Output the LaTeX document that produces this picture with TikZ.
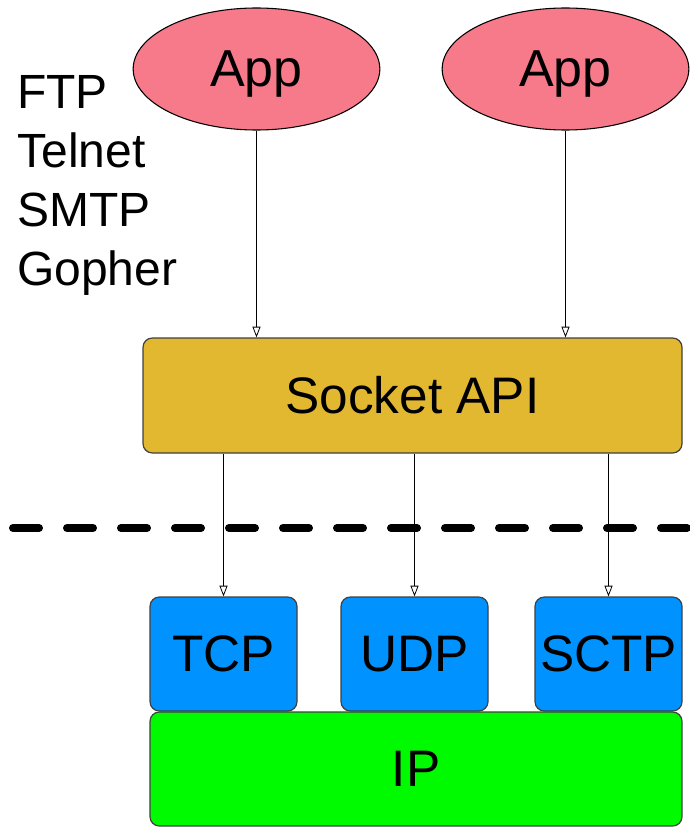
\documentclass[tikz,border=0pt]{standalone}
\usepackage{fontspec}
\setmainfont{Liberation Sans}
\usetikzlibrary{arrows.meta,shapes.geometric,positioning}

\definecolor{apppink}{RGB}{246,122,138}
\definecolor{apigold}{RGB}{226,184,49}
\definecolor{protoblue}{RGB}{0,147,255}
\definecolor{ipgreen}{RGB}{0,250,0}

\tikzset{
  app/.style={ellipse, draw=black, line width=0.8pt, fill=apppink, inner sep=0pt, text depth=0pt,
    minimum width=185pt, minimum height=91.5pt, font=\fontsize{39}{46}\selectfont},
  layer/.style={rectangle, rounded corners=7pt, draw=black!75, line width=0.9pt, inner sep=0pt,
    font=\fontsize{38.5}{46}\selectfont},
  proto/.style={layer, fill=protoblue, minimum width=110.25pt, minimum height=85.5pt},
  call/.style={line width=0.6pt, -{Triangle[open, width=6pt, length=8pt]}}
}

\begin{document}
\begin{tikzpicture}[x=0.75pt,y=-0.75pt]
  \useasboundingbox (0,0) rectangle (689,827);
  \node[app] (app1) at (256.5,69) {App};
  \node[app] (app2) at (565.5,69) {App};
  \node[anchor=north west, align=left, inner sep=0pt,
    font=\fontsize{36}{44.25}\selectfont] (names) at (17,75) {FTP\\Telnet\\SMTP\\Gopher};
  \node[layer, fill=apigold, minimum width=404.25pt, minimum height=86.25pt] (api) at (412.5,395.5) {Socket API};
  \node[proto] (tcp) at (223.5,654) {TCP};
  \node[proto] (udp) at (414.5,654) {UDP};
  \node[proto] (sctp) at (608.5,654) {SCTP};
  \node[layer, fill=ipgreen, minimum width=399pt, minimum height=85.5pt] (ip) at (416,769) {IP};
  \draw[call] (app1.south) -- (app1.south |- api.north);
  \draw[call] (app2.south) -- (app2.south |- api.north);
  \draw[call] (api.south -| tcp.north) -- (tcp.north);
  \draw[call] (api.south -| udp.north) -- (udp.north);
  \draw[call] (api.south -| sctp.north) -- (sctp.north);
  % boundary between user space and kernel
  \draw[line width=6pt, line cap=round, dash pattern=on 19.5pt off 21pt] (13,528) -- (700,528);
\end{tikzpicture}
\end{document}
